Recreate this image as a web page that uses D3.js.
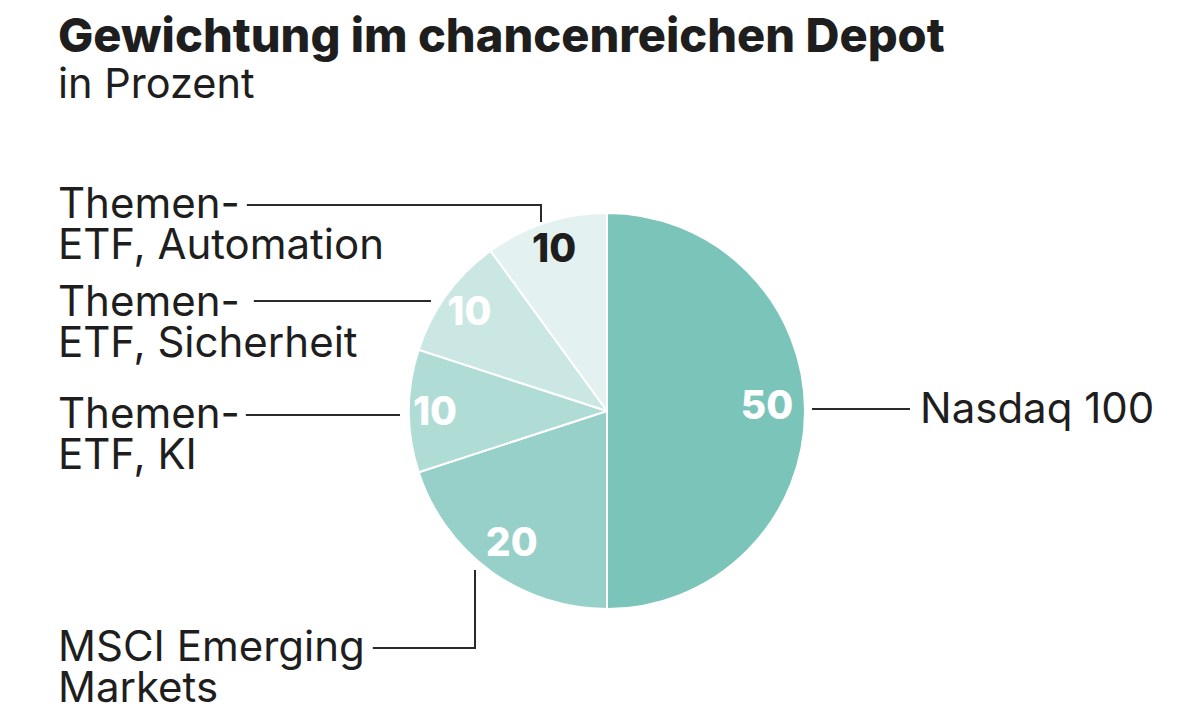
<!DOCTYPE html>
<html><head><meta charset="utf-8">
<script src="https://cdn.jsdelivr.net/npm/d3@7"></script>
<style>
html,body{margin:0;padding:0;background:#fff;}
svg{display:block;font-family:Inter,"Noto Sans",sans-serif;}
</style></head>
<body>
<svg id="chart" width="1200" height="725"></svg>
<script>
// ---- data ----
const categories = ["Nasdaq 100", "MSCI Emerging Markets", "Themen-ETF, KI", "Themen-ETF, Sicherheit", "Themen-ETF, Automation"];
const values = [50, 20, 10, 10, 10];
const labelLines = [["Nasdaq 100"], ["MSCI Emerging", "Markets"], ["Themen-", "ETF, KI"], ["Themen-", "ETF, Sicherheit"], ["Themen-", "ETF, Automation"]];
const colors = ["#7bc4ba", "#96d0c8", "#b0dcd6", "#cbe7e3", "#e3f2f0"];
const valueTextColors = ["#ffffff", "#ffffff", "#ffffff", "#ffffff", "#1e1e1e"];
const title = "Gewichtung im chancenreichen Depot";
const subtitle = "in Prozent";

// ---- layout ----
const cx = 607, cy = 411, R = 198;
const labelRadii = [160, 162, 172, 170, 171];
const labelDy = [-6, 0, 0, 0, 0];
const labelFont = 42, lineH = 41;
// label layout: text position (left x, first baseline) and leader geometry
const labelLayout = [
  {x: 920, y: 423, leader: "right", ly: 409},
  {x: 58, y: 661, leader: "elbowUp", ly: 648, ex: 475, ey: 570, gap: 8},
  {x: 58, y: 428, leader: "left", ly: 415, endX: 400, gap: 6},
  {x: 58, y: 316, leader: "left", ly: 301, endX: 431, gap: 14},
  {x: 58, y: 218, leader: "elbowDown", ly: 205, ex: 541, ey: 222, gap: 7}
];

const svg = d3.select("#chart");

svg.append("text").attr("x", 58).attr("y", 52)
  .attr("font-size", 47).attr("font-weight", 800).attr("fill", "#1e1e1e")
  .text(title);
svg.append("text").attr("x", 58).attr("y", 98)
  .attr("font-size", 41.5).attr("font-weight", 400).attr("fill", "#1e1e1e")
  .text(subtitle);

const pie = d3.pie().sort(null).value(d => d)(values);
const arc = d3.arc().innerRadius(0).outerRadius(R);

const g = svg.append("g").attr("transform", `translate(${cx},${cy})`);
g.selectAll("path.slice").data(pie).join("path")
  .attr("class", "slice")
  .attr("d", arc)
  .attr("fill", (d, i) => colors[i])
  .attr("stroke", "#ffffff").attr("stroke-width", 2).attr("stroke-linejoin", "round");

g.selectAll("text.val").data(pie).join("text")
  .attr("class", "val")
  .attr("transform", (d, i) => {
    const c = d3.arc().innerRadius(labelRadii[i]).outerRadius(labelRadii[i]).centroid(d);
    return `translate(${c[0]},${c[1] + labelDy[i]})`;
  })
  .attr("text-anchor", "middle").attr("dy", "0.36em")
  .attr("font-size", 39).attr("font-weight", 800)
  .attr("fill", (d, i) => valueTextColors[i])
  .text(d => d.data);

// labels
const lg = svg.append("g");
labelLines.forEach((lines, i) => {
  const L = labelLayout[i];
  const t = lg.append("text").attr("font-size", labelFont).attr("fill", "#1e1e1e");
  lines.forEach((ln, j) => {
    t.append("tspan").attr("x", L.x).attr("y", L.y + j * lineH).text(ln);
  });
  const firstW = t.select("tspan").node().getComputedTextLength();
  const startX = L.x + firstW + (L.gap || 8);
  let pts;
  if (L.leader === "right") {
    pts = [[cx + R + 7, L.ly], [L.x - 10, L.ly]];
  } else if (L.leader === "left") {
    pts = [[startX, L.ly], [L.endX, L.ly]];
  } else {
    pts = [[startX, L.ly], [L.ex, L.ly], [L.ex, L.ey]];
  }
  lg.append("path").attr("d", d3.line()(pts))
    .attr("fill", "none").attr("stroke", "#2a2a2a").attr("stroke-width", 2);
});
</script>
</body></html>
